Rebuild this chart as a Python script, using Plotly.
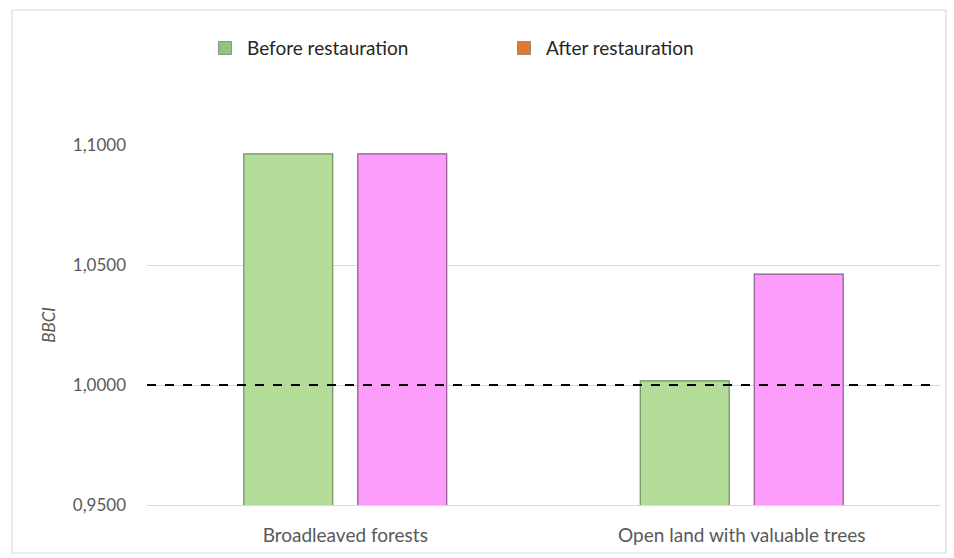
import plotly.graph_objects as go

categories = ["Broadleaved forests", "Open land with valuable trees"]
before_vals = [1.0963, 1.0017]
after_vals = [1.0963, 1.0462]
series_names = ["Before restauration", "After restauration"]
bar_colors = ["#b3dc98", "#fc9dfc"]
edge_colors = ["#6f8f5f", "#8a5a8a"]
legend_colors = ["#8fc47a", "#e07a2e"]
y_ticks = [0.95, 1.0, 1.05, 1.1]
ref_value = 1.0

FONT = "Lato, 'Open Sans', sans-serif"
GRAY = "#595959"

fig = go.Figure()
for name, vals, col, edge in zip(series_names, [before_vals, after_vals], bar_colors, edge_colors):
    fig.add_trace(go.Bar(
        x=categories, y=vals, base=0, name=name, showlegend=False,
        marker=dict(color=col, line=dict(color=edge, width=1.2)),
    ))
# legend entries (as in the original, the legend shows green and orange)
for name, col in zip(series_names, legend_colors):
    fig.add_trace(go.Scatter(
        x=[None], y=[None], name=name, mode="markers", showlegend=True,
        marker=dict(color=col, symbol="square", size=13,
                    line=dict(color="#666666", width=0.6)),
    ))

fig.add_shape(type="line", xref="paper", yref="y", x0=0, x1=0.995,
              y0=ref_value, y1=ref_value,
              line=dict(color="black", width=2.2, dash="dash"))

# outer chart frame
fig.add_shape(type="rect", xref="paper", yref="paper",
              x0=(12 - 147) / 793, x1=(946 - 147) / 793,
              y0=(505 - 553) / 360, y1=(505 - 10) / 360,
              line=dict(color="#d9d9d9", width=1.2), fillcolor="rgba(0,0,0,0)",
              layer="below")

fig.update_layout(
    width=954, height=558,
    margin=dict(l=147, r=14, t=145, b=53),
    paper_bgcolor="white", plot_bgcolor="white",
    separators=", ",
    barmode="group", bargap=0.425, bargroupgap=0.22,
    font=dict(family=FONT, size=18, color=GRAY),
    legend=dict(orientation="h", x=(203 - 147) / 793, xanchor="left",
                y=1.269, yanchor="middle",
                font=dict(family=FONT, size=19, color="#262626"),
                itemwidth=34, traceorder="normal",
                entrywidth=250, entrywidthmode="pixels"),
    xaxis=dict(showgrid=False, showline=True, linecolor="#d9d9d9", linewidth=1,
               ticks="", ticklabelstandoff=13, tickfont=dict(size=19, color=GRAY)),
    yaxis=dict(range=[0.95, 1.1], tickvals=y_ticks, tickformat=".4f",
               showgrid=True, gridcolor="#d9d9d9", gridwidth=1,
               zeroline=False, showline=False, ticks="",
               ticklabelstandoff=20,
               tickfont=dict(size=17, color=GRAY),
               title=dict(text="<i>BBCI</i>", standoff=12,
                          font=dict(size=17, color=GRAY))),
)

fig.write_html("out.html")
